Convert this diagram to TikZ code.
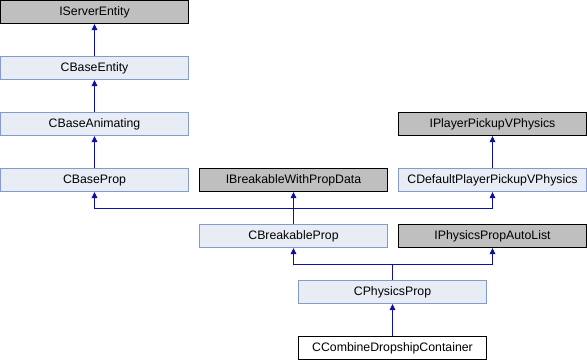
\documentclass[tikz,border=0pt]{standalone}
\usepackage{fontspec}
\setmainfont{Liberation Sans}
\usetikzlibrary{arrows.meta}
\definecolor{clsfill}{RGB}{232,236,245}
\definecolor{clsdraw}{RGB}{132,154,204}
\definecolor{ifcfill}{RGB}{191,191,191}
\definecolor{edgeblue}{RGB}{16,16,160}
\tikzset{
  cls/.style={draw=clsdraw, fill=clsfill, line width=1pt, minimum width=188pt,
    minimum height=23pt, inner sep=0pt, font=\fontsize{12.3}{14}\selectfont},
  ifc/.style={cls, draw=black, fill=ifcfill},
  leaf/.style={cls, draw=black, fill=white},
  inh/.style={draw=edgeblue, line width=1pt,
    {Triangle[length=6pt,width=5.5pt]}-},
  plain/.style={draw=edgeblue, line width=1pt}
}
\begin{document}
\begin{tikzpicture}[x=1pt,y=-1pt]
\useasboundingbox (0,0) rectangle (587,360);
% left column
\node[ifc] (iserver) at (94.5,12) {IServerEntity};
\node[cls] (cbaseent) at (94.5,68) {CBaseEntity};
\node[cls] (cbaseanim) at (94.5,124) {CBaseAnimating};
\node[cls] (cbaseprop) at (94.5,180) {CBaseProp};
% middle and right
\node[ifc] (ibreak) at (293.5,180) {IBreakableWithPropData};
\node[ifc] (ipickup) at (492.5,124) {IPlayerPickupVPhysics};
\node[cls] (cdefault) at (492.5,180) {CDefaultPlayerPickupVPhysics};
\node[cls] (cbreak) at (293.5,236) {CBreakableProp};
\node[ifc] (iphys) at (492.5,236) {IPhysicsPropAutoList};
\node[cls] (cphys) at (392.5,292) {CPhysicsProp};
\node[leaf] (ccomb) at (392.5,348) {CCombineDropshipContainer};
% junctions of merged edges
\coordinate (jb) at (293.5,208.5);
\coordinate (jp) at (392.5,264.5);
% inheritance edges
\draw[inh] (iserver.south) -- (cbaseent.north);
\draw[inh] (cbaseent.south) -- (cbaseanim.north);
\draw[inh] (cbaseanim.south) -- (cbaseprop.north);
\draw[inh] (ipickup.south) -- (cdefault.north);
\draw[inh] (cbaseprop.south) |- (jb);
\draw[inh] (cdefault.south) |- (jb);
\draw[inh] (ibreak.south) -- (cbreak.north);
\draw[inh] (cbreak.south) |- (jp);
\draw[inh] (iphys.south) |- (jp);
\draw[plain] (jp) -- (cphys.north);
\draw[inh] (cphys.south) -- (ccomb.north);
\end{tikzpicture}
\end{document}
